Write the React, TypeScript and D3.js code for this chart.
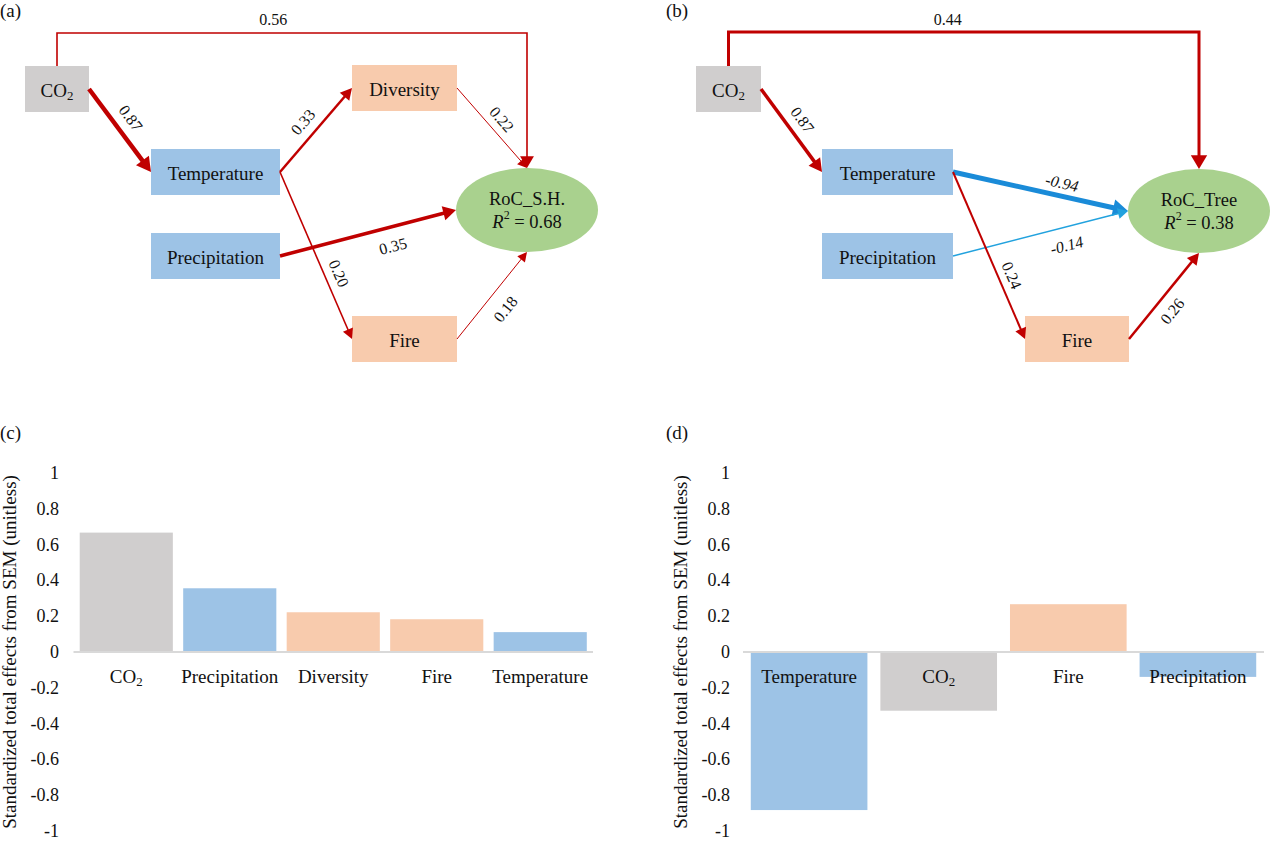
import React from "react";
import * as d3 from "d3";

// ---------------- DATA ----------------
// (a) SEM for RoC of shrub/herb
const semAR2 = 0.68;
const semAFrom = ["CO2", "CO2", "Temperature", "Temperature", "Precipitation", "Diversity", "Fire"];
const semATo = ["RoC_S.H.", "Temperature", "Diversity", "Fire", "RoC_S.H.", "RoC_S.H.", "RoC_S.H."];
const semACoef = [0.56, 0.87, 0.33, 0.2, 0.35, 0.22, 0.18];

// (b) SEM for RoC of trees
const semBR2 = 0.38;
const semBFrom = ["CO2", "CO2", "Temperature", "Precipitation", "Temperature", "Fire"];
const semBTo = ["RoC_Tree", "Temperature", "RoC_Tree", "RoC_Tree", "Fire", "RoC_Tree"];
const semBCoef = [0.44, 0.87, -0.94, -0.14, 0.24, 0.26];

// (c) standardized total effects
const effCCats = ["CO2", "Precipitation", "Diversity", "Fire", "Temperature"];
const effCVals = [0.667, 0.356, 0.222, 0.183, 0.111];

// (d) standardized total effects
const effDCats = ["Temperature", "CO2", "Fire", "Precipitation"];
const effDVals = [-0.883, -0.328, 0.267, -0.139];

const yTickVals = [1, 0.8, 0.6, 0.4, 0.2, 0, -0.2, -0.4, -0.6, -0.8, -1];
const yTitle = "Standardized total effects from SEM (unitless)";

// ---------------- STYLE / LAYOUT ----------------
const FONT = "Liberation Serif, DejaVu Serif, Times New Roman, serif";
const RED = "#c00000";
const BLUE_LINE = "#1a8bd8";
const BLUE_THIN = "#22a2de";
const TXT = "#111";
const nodeColor: Record<string, string> = {
  CO2: "#d0cece",
  Temperature: "#9dc3e6",
  Precipitation: "#9dc3e6",
  Diversity: "#f8cbad",
  Fire: "#f8cbad",
  "RoC_S.H.": "#a9d18e",
  RoC_Tree: "#a9d18e",
};

type Box =
  | { shape: "rect"; x: number; y: number; w: number; h: number }
  | { shape: "ellipse"; cx: number; cy: number; rx: number; ry: number };

const layoutA: Record<string, Box> = {
  CO2: { shape: "rect", x: 25, y: 66, w: 64, h: 46 },
  Temperature: { shape: "rect", x: 151, y: 149, w: 129, h: 46 },
  Precipitation: { shape: "rect", x: 151, y: 233, w: 129, h: 46 },
  Diversity: { shape: "rect", x: 352, y: 65, w: 105, h: 46 },
  Fire: { shape: "rect", x: 352, y: 316, w: 105, h: 46 },
  "RoC_S.H.": { shape: "ellipse", cx: 527, cy: 210, rx: 71, ry: 42 },
};
const layoutB: Record<string, Box> = {
  CO2: { shape: "rect", x: 696, y: 66, w: 65, h: 46 },
  Temperature: { shape: "rect", x: 822, y: 149, w: 131, h: 46 },
  Precipitation: { shape: "rect", x: 822, y: 233, w: 131, h: 46 },
  Fire: { shape: "rect", x: 1025, y: 316, w: 104, h: 46 },
  RoC_Tree: { shape: "ellipse", cx: 1199, cy: 211, rx: 71, ry: 42 },
};

type EdgeStyle = {
  sp: string;
  tp: string;
  w: number;
  t: number;
  off: number;
  overY?: number;
  thin?: boolean;
  italic?: boolean;
};

const edgeStyleA: EdgeStyle[] = [
  { sp: "top", tp: "top", w: 1.6, t: 0.46, off: 14, overY: 33 },
  { sp: "right", tp: "left", w: 4.5, t: 0.466, off: 16 },
  { sp: "right", tp: "left", w: 2.5, t: 0.478, off: 15 },
  { sp: "right", tp: "left", w: 1.6, t: 0.64, off: 14 },
  { sp: "right", tp: "left", w: 3.5, t: 0.615, off: -19 },
  { sp: "right", tp: "top", w: 1, t: 0.5, off: 13 },
  { sp: "right", tp: "bottom", w: 1, t: 0.48, off: -19 },
];
const edgeStyleB: EdgeStyle[] = [
  { sp: "top", tp: "top", w: 3, t: 0.466, off: 13, overY: 32 },
  { sp: "right", tp: "left", w: 3.5, t: 0.48, off: 15 },
  { sp: "right", tp: "left", w: 5, t: 0.607, off: 13, italic: true },
  { sp: "right", tp: "left", w: 1.5, t: 0.625, off: -18, thin: true, italic: true },
  { sp: "right", tp: "left", w: 2, t: 0.65, off: 13 },
  { sp: "right", tp: "bottom", w: 2.5, t: 0.44, off: -16 },
];

function port(b: Box, side: string): [number, number] {
  if (b.shape === "rect") {
    if (side === "right") return [b.x + b.w, b.y + b.h / 2];
    if (side === "left") return [b.x, b.y + b.h / 2];
    if (side === "top") return [b.x + b.w / 2, b.y];
    return [b.x + b.w / 2, b.y + b.h];
  }
  if (side === "left") return [b.cx - b.rx, b.cy];
  if (side === "right") return [b.cx + b.rx, b.cy];
  if (side === "top") return [b.cx, b.cy - b.ry];
  return [b.cx, b.cy + b.ry];
}

function NameText({ name, size }: { name: string; size: number }) {
  if (name === "CO2")
    return (
      <>
        CO
        <tspan fontSize={size * 0.68} dy={size * 0.28}>
          2
        </tspan>
      </>
    );
  return <>{name}</>;
}

const fmt = d3.format(".2f");
const fmtSigned = (v: number) => (v < 0 ? "-" + fmt(-v) : fmt(v));

function Edge({ a, b, coef, st }: { a: Box; b: Box; coef: number; st: EdgeStyle }) {
  const color = coef < 0 ? (st.thin ? BLUE_THIN : BLUE_LINE) : RED;
  const s = port(a, st.sp);
  const e = port(b, st.tp);
  const pts: [number, number][] =
    st.overY !== undefined ? [s, [s[0], st.overY], [e[0], st.overY], e] : [s, e];
  const n = pts.length;
  const p0 = pts[n - 2];
  const p1 = pts[n - 1];
  const dx = p1[0] - p0[0];
  const dy = p1[1] - p0[1];
  const len = Math.hypot(dx, dy);
  const ux = dx / len;
  const uy = dy / len;
  const headL = 8 + 1.4 * st.w + (st.overY !== undefined ? 1.5 : 0);
  const headH = 4 + 0.9 * st.w + (st.overY !== undefined ? 1.5 : 0);
  const linePts = pts
    .slice(0, n - 1)
    .concat([[p1[0] - ux * (headL - 1), p1[1] - uy * (headL - 1)]]);
  const bx = p1[0] - ux * headL;
  const by = p1[1] - uy * headL;
  const tri = [
    [p1[0], p1[1]],
    [bx - uy * headH, by + ux * headH],
    [bx + uy * headH, by - ux * headH],
  ];
  const line = d3.line()(linePts as [number, number][]) || "";

  let lx: number, ly: number, rot: number;
  if (st.overY !== undefined) {
    const x0 = pts[1][0];
    const x1 = pts[2][0];
    lx = x0 + st.t * (x1 - x0);
    ly = st.overY - st.off;
    rot = 0;
  } else {
    const nx = uy;
    const ny = -ux;
    lx = s[0] + st.t * dx + nx * st.off;
    ly = s[1] + st.t * dy + ny * st.off;
    rot = (Math.atan2(dy, dx) * 180) / Math.PI;
    if (rot > 90) rot -= 180;
    if (rot < -90) rot += 180;
  }

  return (
    <g>
      <path d={line} fill="none" stroke={color} strokeWidth={st.w} strokeLinejoin="miter" />
      <polygon points={tri.map((p) => p.join(",")).join(" ")} fill={color} />
      <text
        x={lx}
        y={ly}
        transform={`rotate(${rot} ${lx} ${ly})`}
        textAnchor="middle"
        dominantBaseline="central"
        fontFamily={FONT}
        fontSize={16}
        fontStyle={st.italic ? "italic" : "normal"}
        fill={TXT}
      >
        {fmtSigned(coef)}
      </text>
    </g>
  );
}

function SemPanel({
  layout,
  from,
  to,
  coef,
  styles,
  r2,
  tag,
  tagX,
}: {
  layout: Record<string, Box>;
  from: string[];
  to: string[];
  coef: number[];
  styles: EdgeStyle[];
  r2: number;
  tag: string;
  tagX: number;
}) {
  const names = Object.keys(layout);
  return (
    <g>
      <text x={tagX} y={17} fontFamily={FONT} fontSize={19} fill={TXT}>
        {tag}
      </text>
      {names.map((nm) => {
        const b = layout[nm];
        if (b.shape === "rect") {
          return (
            <g key={nm}>
              <rect x={b.x} y={b.y} width={b.w} height={b.h} fill={nodeColor[nm]} />
              <text
                x={b.x + b.w / 2}
                y={b.y + b.h / 2 + 1}
                textAnchor="middle"
                dominantBaseline="central"
                fontFamily={FONT}
                fontSize={19}
                fill={TXT}
              >
                <NameText name={nm} size={19} />
              </text>
            </g>
          );
        }
        return (
          <g key={nm}>
            <ellipse cx={b.cx} cy={b.cy} rx={b.rx} ry={b.ry} fill={nodeColor[nm]} />
            <text
              x={b.cx}
              y={b.cy - 11}
              textAnchor="middle"
              dominantBaseline="central"
              fontFamily={FONT}
              fontSize={18.5}
              fill={TXT}
            >
              {nm}
            </text>
            <text
              x={b.cx}
              y={b.cy + 12}
              textAnchor="middle"
              dominantBaseline="central"
              fontFamily={FONT}
              fontSize={18.5}
              fill={TXT}
            >
              <tspan fontStyle="italic">R</tspan>
              <tspan fontSize={12} dy={-7}>
                2
              </tspan>
              <tspan dy={7}>{" = " + fmt(r2)}</tspan>
            </text>
          </g>
        );
      })}
      {from.map((f, i) => (
        <Edge key={i} a={layout[f]} b={layout[to[i]]} coef={coef[i]} st={styles[i]} />
      ))}
    </g>
  );
}

const yScale = d3.scaleLinear().domain([-1, 1]).range([831, 473]);

function BarPanel({
  cats,
  vals,
  range,
  tickX,
  titleX,
  tag,
  tagX,
}: {
  cats: string[];
  vals: number[];
  range: [number, number];
  tickX: number;
  titleX: number;
  tag: string;
  tagX: number;
}) {
  const x = d3.scaleBand<string>().domain(cats).range(range).paddingInner(0.1).paddingOuter(0.06);
  const y0 = yScale(0);
  return (
    <g fontFamily={FONT}>
      <text x={tagX} y={439} fontFamily={FONT} fontSize={19} fill={TXT}>
        {tag}
      </text>
      <text
        x={titleX}
        y={y0}
        transform={`rotate(-90 ${titleX} ${y0})`}
        textAnchor="middle"
        dominantBaseline="central"
        fontFamily={FONT}
        fontSize={19}
        fill={TXT}
      >
        {yTitle}
      </text>
      {yTickVals.map((v) => (
        <text
          key={v}
          x={tickX}
          y={yScale(v)}
          textAnchor="end"
          dominantBaseline="central"
          fontFamily={FONT}
          fontSize={18}
          fill={TXT}
        >
          {String(v)}
        </text>
      ))}
      {cats.map((c, i) => {
        const v = vals[i];
        const top = Math.min(yScale(v), y0);
        const h = Math.abs(yScale(v) - y0);
        return <rect key={c} x={x(c)} y={top} width={x.bandwidth()} height={h} fill={nodeColor[c]} />;
      })}
      <line x1={range[0]} x2={range[1]} y1={y0} y2={y0} stroke="#d9d9d9" strokeWidth={2} />
      {cats.map((c) => (
        <text
          key={"l" + c}
          x={(x(c) as number) + x.bandwidth() / 2}
          y={676}
          textAnchor="middle"
          dominantBaseline="central"
          fontFamily={FONT}
          fontSize={19}
          fill={TXT}
        >
          <NameText name={c} size={19} />
        </text>
      ))}
    </g>
  );
}

export default function App() {
  return (
    <svg
      width={1270}
      height={841}
      viewBox="0 0 1270 841"
      fontFamily={FONT}
      style={{ position: "absolute", left: 0, top: 0, background: "#fff" }}
    >
      <rect x={0} y={0} width={1270} height={841} fill="#fff" />
      <SemPanel
        layout={layoutA}
        from={semAFrom}
        to={semATo}
        coef={semACoef}
        styles={edgeStyleA}
        r2={semAR2}
        tag="(a)"
        tagX={0}
      />
      <SemPanel
        layout={layoutB}
        from={semBFrom}
        to={semBTo}
        coef={semBCoef}
        styles={edgeStyleB}
        r2={semBR2}
        tag="(b)"
        tagX={666}
      />
      <BarPanel cats={effCCats} vals={effCVals} range={[73.5, 593]} tickX={59} titleX={9} tag="(c)" tagX={0} />
      <BarPanel cats={effDCats} vals={effDVals} range={[743, 1264]} tickX={730} titleX={680} tag="(d)" tagX={666} />
    </svg>
  );
}
